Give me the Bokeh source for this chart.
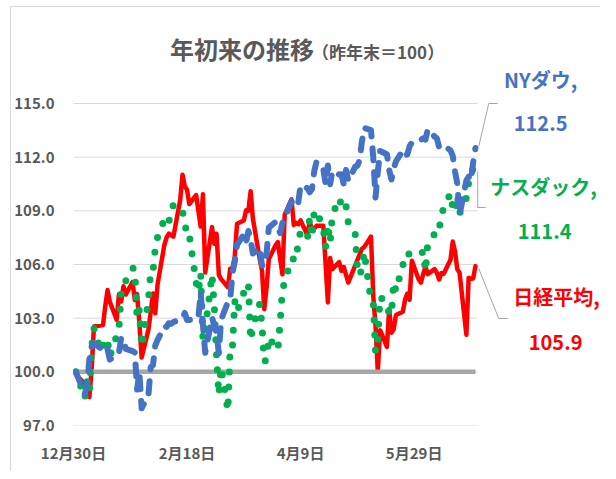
import pandas as pd
from bokeh.plotting import figure
from bokeh.models import Range1d, FixedTicker, PrintfTickFormatter
from bokeh.core.properties import value
from bokeh.embed import file_html
from bokeh.resources import INLINE

# ---------------- data (index, previous year end = 100) ----------------
title_main = "年初来の推移"
title_sub = "（昨年末＝100）"
base_value = 100.0
base_date = "2020-12-30"
tick_dates = ["2020-12-30", "2021-02-18", "2021-04-09", "2021-05-29"]
y_ticks = [97, 100, 103, 106, 109, 112, 115]
axis_end_day = 178

series_names = ["NYダウ", "ナスダック", "日経平均"]

nikkei_dates = [
    "2020-12-30", "2021-01-04", "2021-01-05", "2021-01-06", "2021-01-07", "2021-01-08", "2021-01-12",
    "2021-01-13", "2021-01-14", "2021-01-15", "2021-01-18", "2021-01-19", "2021-01-20", "2021-01-21",
    "2021-01-22", "2021-01-25", "2021-01-26", "2021-01-27", "2021-01-28", "2021-01-29", "2021-02-01",
    "2021-02-02", "2021-02-03", "2021-02-04", "2021-02-05", "2021-02-08", "2021-02-09", "2021-02-10",
    "2021-02-12", "2021-02-15", "2021-02-16", "2021-02-17", "2021-02-18", "2021-02-19", "2021-02-22",
    "2021-02-24", "2021-02-25", "2021-02-26", "2021-03-01", "2021-03-02", "2021-03-03", "2021-03-04",
    "2021-03-05", "2021-03-08", "2021-03-09", "2021-03-10", "2021-03-11", "2021-03-12", "2021-03-15",
    "2021-03-16", "2021-03-17", "2021-03-18", "2021-03-19", "2021-03-22", "2021-03-23", "2021-03-24",
    "2021-03-25", "2021-03-26", "2021-03-29", "2021-03-30", "2021-03-31", "2021-04-01", "2021-04-02",
    "2021-04-05", "2021-04-06", "2021-04-07", "2021-04-08", "2021-04-09", "2021-04-12", "2021-04-13",
    "2021-04-14", "2021-04-15", "2021-04-16", "2021-04-19", "2021-04-20", "2021-04-21", "2021-04-22",
    "2021-04-23", "2021-04-26", "2021-04-27", "2021-04-28", "2021-04-30", "2021-05-06", "2021-05-07",
    "2021-05-10", "2021-05-11", "2021-05-12", "2021-05-13", "2021-05-14", "2021-05-17", "2021-05-18",
    "2021-05-19", "2021-05-20", "2021-05-21", "2021-05-24", "2021-05-25", "2021-05-26", "2021-05-27",
    "2021-05-28", "2021-05-31", "2021-06-01", "2021-06-02", "2021-06-03", "2021-06-04", "2021-06-07",
    "2021-06-08", "2021-06-09", "2021-06-10", "2021-06-11", "2021-06-14", "2021-06-15", "2021-06-16",
    "2021-06-17", "2021-06-18", "2021-06-21", "2021-06-22", "2021-06-23", "2021-06-24", "2021-06-25",
]
nikkei = [
    100.00, 99.32, 98.96, 98.59, 100.17, 102.53, 102.62,
    103.69, 104.57, 103.92, 102.91, 104.33, 103.93, 104.78,
    104.32, 105.02, 104.02, 104.34, 102.74, 100.80, 102.36,
    103.34, 104.38, 103.27, 104.87, 107.09, 107.51, 107.72,
    107.56, 109.62, 111.02, 110.38, 110.17, 109.38, 109.88,
    108.12, 109.93, 105.55, 108.09, 107.16, 107.71, 105.42,
    105.18, 104.73, 105.77, 105.80, 106.44, 108.28, 108.46,
    109.03, 109.00, 110.10, 108.56, 106.30, 105.66, 103.50,
    104.68, 106.31, 107.07, 107.25, 106.32, 105.45, 108.78,
    109.64, 108.21, 108.33, 108.25, 108.47, 107.63, 108.41,
    107.93, 108.01, 108.16, 108.17, 106.04, 103.88, 106.36,
    105.74, 106.13, 105.64, 105.86, 104.99, 106.88, 106.97,
    107.56, 104.24, 102.56, 100.01, 102.33, 101.39, 103.51,
    102.19, 102.38, 103.18, 103.36, 104.04, 104.37, 104.03,
    106.21, 105.16, 104.99, 105.47, 105.88, 105.46, 105.74,
    105.54, 105.16, 105.52, 105.48, 106.26, 107.28, 106.73,
    105.74, 105.54, 102.07, 105.25, 105.21, 105.22, 105.91,
]

us_dates = [
    "2020-12-31", "2021-01-04", "2021-01-05", "2021-01-06", "2021-01-07", "2021-01-08", "2021-01-11",
    "2021-01-12", "2021-01-13", "2021-01-14", "2021-01-15", "2021-01-19", "2021-01-20", "2021-01-21",
    "2021-01-22", "2021-01-25", "2021-01-26", "2021-01-27", "2021-01-28", "2021-01-29", "2021-02-01",
    "2021-02-02", "2021-02-03", "2021-02-04", "2021-02-05", "2021-02-08", "2021-02-09", "2021-02-10",
    "2021-02-11", "2021-02-12", "2021-02-16", "2021-02-17", "2021-02-18", "2021-02-19", "2021-02-22",
    "2021-02-23", "2021-02-24", "2021-02-25", "2021-02-26", "2021-03-01", "2021-03-02", "2021-03-03",
    "2021-03-04", "2021-03-05", "2021-03-08", "2021-03-09", "2021-03-10", "2021-03-11", "2021-03-12",
    "2021-03-15", "2021-03-16", "2021-03-17", "2021-03-18", "2021-03-19", "2021-03-22", "2021-03-23",
    "2021-03-24", "2021-03-25", "2021-03-26", "2021-03-29", "2021-03-30", "2021-03-31", "2021-04-01",
    "2021-04-05", "2021-04-06", "2021-04-07", "2021-04-08", "2021-04-09", "2021-04-12", "2021-04-13",
    "2021-04-14", "2021-04-15", "2021-04-16", "2021-04-19", "2021-04-20", "2021-04-21", "2021-04-22",
    "2021-04-23", "2021-04-26", "2021-04-27", "2021-04-28", "2021-04-29", "2021-04-30", "2021-05-03",
    "2021-05-04", "2021-05-05", "2021-05-06", "2021-05-07", "2021-05-10", "2021-05-11", "2021-05-12",
    "2021-05-13", "2021-05-14", "2021-05-17", "2021-05-18", "2021-05-19", "2021-05-20", "2021-05-21",
    "2021-05-24", "2021-05-25", "2021-05-26", "2021-05-27", "2021-05-28", "2021-06-01", "2021-06-02",
    "2021-06-03", "2021-06-04", "2021-06-07", "2021-06-08", "2021-06-09", "2021-06-10", "2021-06-11",
    "2021-06-14", "2021-06-15", "2021-06-16", "2021-06-17", "2021-06-18", "2021-06-21", "2021-06-22",
    "2021-06-23", "2021-06-24", "2021-06-25",
]
dow = [
    100.00, 98.75, 99.30, 100.73, 101.42, 101.60, 101.31,
    101.51, 101.48, 101.26, 100.68, 101.06, 101.90, 101.86,
    101.28, 101.16, 101.08, 99.01, 99.99, 97.96, 98.71,
    100.26, 100.38, 101.47, 101.77, 102.55, 102.51, 102.72,
    102.69, 102.78, 102.99, 103.29, 102.90, 102.90, 102.99,
    103.04, 104.43, 102.60, 101.06, 103.04, 102.57, 102.17,
    101.04, 102.91, 103.91, 104.01, 105.52, 106.14, 107.10,
    107.67, 107.25, 107.87, 107.37, 106.61, 106.94, 105.94,
    105.93, 106.58, 108.06, 108.38, 108.04, 107.76, 108.32,
    109.54, 109.23, 109.28, 109.47, 110.44, 110.26, 110.04,
    110.21, 111.21, 111.74, 111.34, 110.51, 111.54, 110.49,
    111.23, 111.03, 111.04, 110.50, 111.29, 110.68, 111.46,
    111.52, 111.84, 112.88, 113.63, 113.51, 111.97, 109.74,
    111.16, 112.34, 112.16, 111.29, 110.75, 111.36, 111.77,
    112.38, 112.11, 112.15, 112.61, 112.82, 112.97, 113.05,
    112.98, 113.56, 113.15, 113.05, 112.55, 112.61, 112.66,
    112.38, 112.07, 111.20, 110.51, 108.77, 110.69, 110.91,
    110.68, 111.73, 112.51,
]
nasdaq = [
    100.00, 98.53, 99.46, 98.86, 101.39, 102.43, 101.15,
    101.43, 101.87, 101.74, 100.86, 102.40, 104.41, 104.99,
    105.08, 105.80, 105.73, 102.97, 103.48, 101.42, 104.00,
    105.62, 105.61, 106.90, 107.51, 108.53, 108.69, 108.41,
    108.83, 109.37, 108.99, 108.36, 107.58, 107.65, 105.00,
    104.48, 105.51, 101.79, 102.36, 105.44, 103.65, 100.85,
    98.72, 100.25, 97.83, 101.44, 101.40, 103.96, 103.35,
    104.43, 104.53, 104.94, 101.77, 102.54, 103.80, 102.63,
    100.57, 100.69, 101.94, 101.33, 101.22, 102.78, 104.59,
    106.34, 106.29, 106.21, 107.30, 107.85, 107.46, 108.60,
    107.52, 108.93, 109.03, 107.97, 106.97, 108.24, 107.22,
    108.76, 109.70, 109.33, 109.02, 109.27, 108.34, 107.81,
    105.78, 105.39, 105.78, 106.70, 103.98, 103.89, 101.11,
    101.84, 104.20, 103.81, 103.22, 103.19, 105.02, 104.52,
    106.00, 105.97, 106.59, 106.58, 106.68, 106.58, 106.74,
    105.63, 107.19, 107.71, 108.04, 107.94, 108.78, 109.16,
    109.98, 109.19, 108.93, 109.88, 108.86, 109.72, 110.59,
    110.73, 111.49, 111.42,
]

# ---------------- styling / layout ----------------
BLUE, GREEN, RED = "#4472C4", "#00B050", "#FF0000"
TXT = "#595959"
FONT = "Noto Sans CJK JP"

FIG_W, FIG_H = 590, 465
ORG_X, ORG_Y = 11, 7              # page px where the chart area starts (after border)
FRAME_L, FRAME_R = 72, 477        # page px of day 0 and axis end
FRAME_T, FRAME_B = 103, 425       # page px of 115 and 97
Y_MIN, Y_MAX_TICK = 97, 115
PX_DAY = (FRAME_R - FRAME_L) / axis_end_day
PX_UNIT = (FRAME_B - FRAME_T) / (Y_MAX_TICK - Y_MIN)


def px(page_x):
    return (page_x - FRAME_L) / PX_DAY


def py(page_y):
    return Y_MIN + (FRAME_B - page_y) / PX_UNIT


base = pd.Timestamp(base_date)


def to_days(dates):
    return [(pd.Timestamp(d) - base).days for d in dates]


nk_x = to_days(nikkei_dates)
us_x = to_days(us_dates)
tick_days = to_days(tick_dates)
tick_labels = {d: f"{pd.Timestamp(s).month}月{pd.Timestamp(s).day}日" for d, s in zip(tick_days, tick_dates)}

p = figure(
    width=FIG_W, height=FIG_H,
    x_range=Range1d(0, px(ORG_X + FIG_W)),
    y_range=Range1d(Y_MIN, py(ORG_Y)),
    output_backend="svg", toolbar_location=None,
    min_border_left=FRAME_L - ORG_X, min_border_right=0,
    min_border_top=0, min_border_bottom=ORG_Y + FIG_H - FRAME_B,
)
p.styles = {"margin-left": "10px", "margin-top": "6px",
            "border-top": "1px solid #D9D9D9", "border-left": "1px solid #D9D9D9"}
p.outline_line_color = None
p.xgrid.visible = False
p.ygrid.visible = False
p.background_fill_color = "white"
p.border_fill_color = "white"

for ax in (p.xaxis[0], p.yaxis[0]):
    ax.axis_line_color = None
    ax.major_tick_line_color = None
    ax.minor_tick_line_color = None
    ax.major_label_text_font = FONT
    ax.major_label_text_font_style = "bold"
    ax.major_label_text_font_size = "15px"
    ax.major_label_text_color = TXT

p.xaxis.ticker = FixedTicker(ticks=tick_days)
p.xaxis.major_label_overrides = tick_labels
p.xaxis.major_label_standoff = 10
p.yaxis.ticker = FixedTicker(ticks=y_ticks)
p.yaxis.formatter = PrintfTickFormatter(format="%.1f")
p.yaxis.major_label_standoff = 13

# gridlines limited to the plotting area
p.segment(x0=[0] * len(y_ticks), x1=[axis_end_day] * len(y_ticks), y0=y_ticks, y1=y_ticks,
          line_color="#D9D9D9", line_width=1)

# series
p.line(nk_x, nikkei, line_color=RED, line_width=4.5, line_join="round", line_cap="round")
p.line([nk_x[0], nk_x[-1]], [base_value, base_value], line_color="#A6A6A6", line_width=4.5)
p.line(us_x, nasdaq, line_color=GREEN, line_width=7, line_dash="0 15", line_cap="round",
       line_join="round")
p.line(us_x, dow, line_color=BLUE, line_width=6, line_dash="12 12", line_cap="round",
       line_join="round")

# leader lines for the end labels
lead = dict(line_color="#A6A6A6", line_width=1)
p.line([px(478), px(488), px(497)], [py(146), py(103), py(103)], **lead)
p.line([px(477), px(477), px(485)], [py(171), py(207), py(207)], **lead)
p.line([px(478), px(498), px(507)], [py(268), py(318), py(318)], **lead)

# end labels
lab = dict(text_font=value(FONT), text_font_style="bold", text_font_size="20px",
           text_align="center", text_baseline="middle")
end_vals = [dow[-1], nasdaq[-1], nikkei[-1]]
colors = [BLUE, GREEN, RED]
name_pos = [(540, 79), (543, 186), (556, 296)]
val_pos = [(540, 123), (544, 231), (555, 342)]
for name, v, c, (nx, ny), (vx, vy) in zip(series_names, end_vals, colors, name_pos, val_pos):
    p.text(x=[px(nx)], y=[py(ny)], text=[name + ","], text_color=c, **lab)
    p.text(x=[px(vx)], y=[py(vy)], text=[f"{v:.1f}"], text_color=c, **lab)

# title
p.text(x=[px(313)], y=[py(48)], text=[title_main], text_color=TXT, text_font=value(FONT),
       text_font_style="bold", text_font_size="24px", text_align="right", text_baseline="middle")
p.text(x=[px(311)], y=[py(51)], text=[title_sub], text_color=TXT, text_font=value(FONT),
       text_font_style="bold", text_font_size="17px", text_align="left", text_baseline="middle")

open("out.html", "w").write(file_html(p, INLINE))
